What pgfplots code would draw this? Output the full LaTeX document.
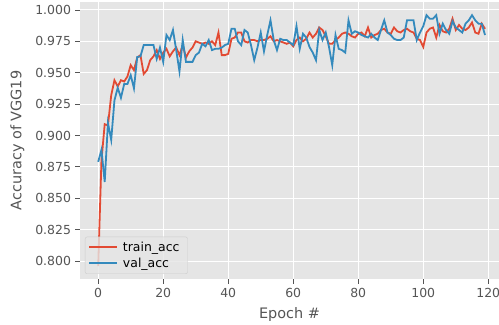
\documentclass[border=0pt]{standalone}
\usepackage{pgfplots}
\usepackage{pgfplotstable}
\pgfplotsset{compat=1.18}
\usepackage{fontspec}
\setmainfont{DejaVu Sans}
\definecolor{bgg}{HTML}{E5E5E5}
\definecolor{tcol}{HTML}{555555}
\definecolor{mred}{HTML}{E24A33}
\definecolor{mblue}{HTML}{348ABD}
\definecolor{ledge}{HTML}{CCCCCC}
\pgfplotstableread{
e train val
0 0.796 0.879
1 0.880 0.8885
2 0.909 0.863
3 0.908 0.910
4 0.932 0.8965
5 0.944 0.928
6 0.939 0.938
7 0.944 0.930
8 0.943 0.941
9 0.947 0.941
10 0.956 0.948
11 0.952 0.9375
12 0.962 0.9625
13 0.964 0.963
14 0.949 0.972
15 0.952 0.972
16 0.960 0.972
17 0.963 0.972
18 0.968 0.961
19 0.961 0.970
20 0.966 0.9586
21 0.969 0.980
22 0.963 0.976
23 0.967 0.984
24 0.970 0.968
25 0.964 0.951
26 0.972 0.976
27 0.962 0.9586
28 0.967 0.9586
29 0.970 0.9586
30 0.975 0.964
31 0.974 0.966
32 0.973 0.973
33 0.974 0.971
34 0.973 0.976
35 0.975 0.968
36 0.972 0.969
37 0.982 0.969
38 0.964 0.970
39 0.964 0.972
40 0.965 0.973
41 0.977 0.985
42 0.978 0.985
43 0.982 0.975
44 0.982 0.972
45 0.975 0.984
46 0.974 0.982
47 0.976 0.972
48 0.976 0.960
49 0.975 0.970
50 0.976 0.982
51 0.976 0.967
52 0.977 0.980
53 0.979 0.9917
54 0.975 0.976
55 0.976 0.968
56 0.975 0.977
57 0.974 0.976
58 0.973 0.976
59 0.974 0.974
60 0.971 0.972
61 0.976 0.987
62 0.978 0.969
63 0.975 0.981
64 0.977 0.978
65 0.982 0.9705
66 0.978 0.966
67 0.981 0.960
68 0.986 0.984
69 0.984 0.976
70 0.979 0.982
71 0.973 0.9705
72 0.973 0.956
73 0.976 0.980
74 0.978 0.969
75 0.981 0.968
76 0.982 0.966
77 0.981 0.9917
78 0.979 0.981
79 0.978 0.983
80 0.981 0.982
81 0.982 0.980
82 0.979 0.979
83 0.986 0.978
84 0.978 0.981
85 0.980 0.978
86 0.981 0.976
87 0.984 0.984
88 0.985 0.9917
89 0.982 0.982
90 0.981 0.980
91 0.986 0.977
92 0.983 0.976
93 0.982 0.976
94 0.984 0.978
95 0.985 0.9917
96 0.983 0.9917
97 0.982 0.9917
98 0.977 0.976
99 0.976 0.982
100 0.9705 0.987
101 0.982 0.9958
102 0.985 0.993
103 0.986 0.993
104 0.978 0.9958
105 0.988 0.981
106 0.983 0.989
107 0.982 0.984
108 0.985 0.981
109 0.993 0.991
110 0.984 0.986
111 0.988 0.984
112 0.985 0.982
113 0.984 0.989
114 0.986 0.9917
115 0.990 0.9958
116 0.982 0.9917
117 0.981 0.989
118 0.989 0.989
119 0.985 0.980
}\acc
\begin{document}
\begin{tikzpicture}
\path[use as bounding box] (-80bp,-46bp) rectangle (419bp,279bp);
\begin{axis}[
  at={(0,0)}, anchor=south west,
  scale only axis, width=419bp, height=277bp,
  xmin=-5.6, xmax=123.3, ymin=0.7857, ymax=1.0063,
  axis background/.style={fill=bgg},
  axis line style={draw=none},
  grid=major, major grid style={white, line width=1bp},
  tick pos=left, tick align=outside, major tick length=4.5bp,
  tick style={tcol, line width=0.8bp},
  xtick={0,20,...,120},
  ytick={0.800,0.825,...,1.0001},
  y tick label style={/pgf/number format/fixed, /pgf/number format/fixed zerofill, /pgf/number format/precision=3, xshift=-1bp},
  x tick label style={yshift=-1bp},
  /pgf/number format/assume math mode=true,
  ticklabel style={font=\fontsize{12.5}{15}\selectfont, text=tcol},
  xlabel={Epoch \#}, ylabel={Accuracy of VGG19},
  every axis x label/.style={at={(axis description cs:0.5,0)}, anchor=center, yshift=-36bp, font=\fontsize{14.5}{17}\selectfont, text=tcol},
  every axis y label/.style={at={(axis description cs:0,0.5)}, anchor=center, rotate=90, yshift=62.5bp, font=\fontsize{14.5}{17}\selectfont, text=tcol},
  legend style={at={(axis description cs:0,0)}, anchor=south west, xshift=5bp, yshift=5bp,
    fill=bgg, fill opacity=0.8, text opacity=1, draw=ledge, rounded corners=2bp,
    font=\fontsize{12.5}{15}\selectfont, row sep=1bp, inner sep=3bp,
    nodes={inner xsep=5bp}},
  legend cell align=left,
  legend image code/.code={\draw[#1] (0bp,0bp) -- (28bp,0bp);},
]
\addplot[mred, line width=1.8bp] table[x=e, y=train] {\acc};
\addlegendentry{train\_acc}
\addplot[mblue, line width=1.8bp] table[x=e, y=val] {\acc};
\addlegendentry{val\_acc}
\end{axis}
\end{tikzpicture}
\end{document}
